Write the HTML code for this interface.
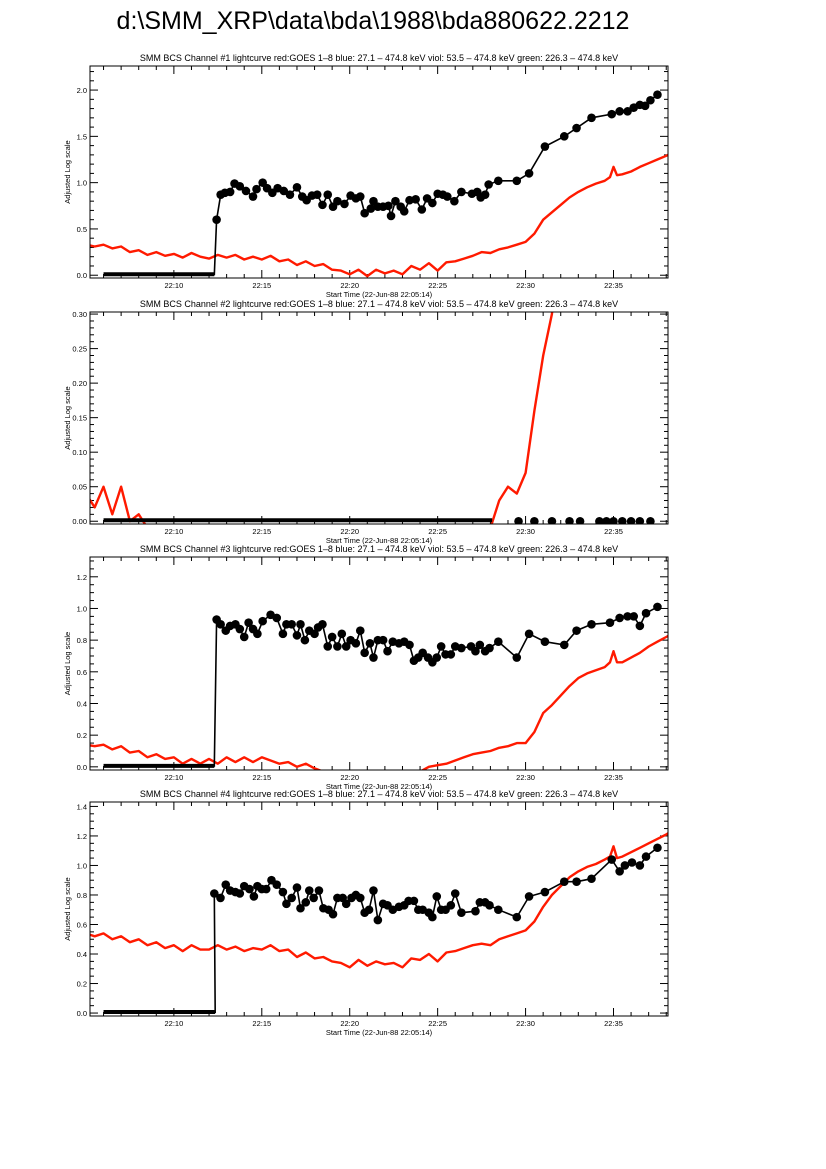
<!DOCTYPE html>
<html><head><meta charset="utf-8"><style>
html,body{margin:0;padding:0;background:#fff;}
svg{display:block;font-family:"Liberation Sans",sans-serif;}
</style></head><body>
<svg id="chart" width="826" height="1169" viewBox="0 0 826 1169" xmlns="http://www.w3.org/2000/svg">
<text x="373" y="29" font-size="25" text-anchor="middle">d:\SMM_XRP\data\bda\1988\bda880622.2212</text>
</svg>
<script>
// Shared GOES time axis (minutes after 22:00)
const goesT = [5.0,5.5,6.0,6.5,7.0,7.5,8.0,8.5,9.0,9.5,10.0,10.5,11.0,11.5,12.0,12.5,13.0,13.5,14.0,14.5,15.0,15.5,16.0,16.5,17.0,17.5,18.0,18.5,19.0,19.5,20.0,20.5,21.0,21.5,22.0,22.5,23.0,23.5,24.0,24.5,25.0,25.5,26.0,26.5,27.0,27.5,28.0,28.5,29.0,29.5,30.0,30.5,31.0,31.5,32.0,32.5,33.0,33.5,34.0,34.5,34.8,35.0,35.2,35.5,36.0,36.5,37.0,37.5,38.0,38.5];
const goes1 = [0.33,0.31,0.33,0.29,0.31,0.25,0.27,0.22,0.25,0.21,0.23,0.19,0.24,0.20,0.18,0.22,0.19,0.22,0.17,0.20,0.17,0.21,0.15,0.17,0.11,0.15,0.10,0.12,0.06,0.05,0.01,0.06,-0.01,0.06,0.02,0.05,0.01,0.10,0.06,0.13,0.05,0.14,0.15,0.18,0.21,0.25,0.24,0.28,0.30,0.33,0.36,0.45,0.60,0.68,0.76,0.84,0.90,0.95,0.99,1.02,1.06,1.17,1.08,1.09,1.12,1.17,1.21,1.25,1.29,1.34];
const goes2 = [0.04,0.02,0.05,0.01,0.05,0.00,0.01,-0.01,-0.01,-0.01,-0.01,-0.01,-0.01,-0.01,-0.01,-0.01,-0.01,-0.01,-0.01,-0.01,-0.01,-0.01,-0.01,-0.01,-0.01,-0.01,-0.01,-0.01,-0.01,-0.01,-0.01,-0.01,-0.01,-0.01,-0.01,-0.01,-0.01,-0.01,-0.01,-0.01,-0.01,-0.01,-0.01,-0.01,-0.01,-0.01,-0.01,0.03,0.05,0.04,0.07,0.16,0.24,0.30,0.40,0.5,0.5,0.5,0.5,0.5,0.5,0.5,0.5,0.5,0.5,0.5,0.5,0.5,0.5,0.5];
const goes3 = [0.14,0.13,0.14,0.11,0.13,0.09,0.10,0.06,0.08,0.05,0.06,0.02,0.05,0.02,0.05,0.02,0.06,0.03,0.06,0.03,0.06,0.04,0.02,0.03,0.00,0.02,-0.01,-0.03,-0.04,-0.04,-0.04,-0.04,-0.04,-0.04,-0.04,-0.04,-0.04,-0.04,-0.03,0.00,0.01,0.02,0.04,0.06,0.08,0.09,0.10,0.12,0.13,0.15,0.15,0.22,0.34,0.39,0.45,0.51,0.56,0.59,0.61,0.63,0.66,0.73,0.66,0.66,0.69,0.72,0.76,0.79,0.82,0.85];
const goes4 = [0.54,0.52,0.54,0.50,0.52,0.48,0.50,0.46,0.48,0.44,0.46,0.42,0.46,0.43,0.43,0.46,0.43,0.45,0.42,0.44,0.43,0.46,0.42,0.43,0.38,0.41,0.37,0.38,0.35,0.34,0.31,0.36,0.32,0.35,0.33,0.34,0.31,0.37,0.36,0.40,0.35,0.41,0.42,0.44,0.46,0.47,0.46,0.50,0.52,0.54,0.56,0.62,0.72,0.80,0.86,0.92,0.96,0.99,1.01,1.04,1.06,1.13,1.05,1.06,1.09,1.12,1.15,1.18,1.21,1.25];

// BCS channel points
const bcsT1 = [12.43,12.66,12.9,13.2,13.45,13.75,14.1,14.5,14.7,15.05,15.3,15.6,15.9,16.25,16.6,17.0,17.3,17.55,17.85,18.15,18.45,18.75,19.05,19.3,19.7,20.05,20.35,20.6,20.85,21.2,21.35,21.6,21.9,22.2,22.35,22.6,22.9,23.1,23.4,23.75,24.1,24.4,24.7,25.0,25.3,25.55,25.95,26.35,26.95,27.25,27.45,27.7,27.9,28.45,29.5,30.2,31.1,32.2,32.9,33.75,34.9,35.35,35.8,36.15,36.5,36.8,37.1,37.5];
const bcsV1 = [0.6,0.87,0.89,0.90,0.99,0.96,0.91,0.85,0.93,1.0,0.94,0.89,0.94,0.91,0.87,0.95,0.85,0.81,0.86,0.87,0.76,0.87,0.74,0.80,0.77,0.86,0.83,0.85,0.67,0.72,0.80,0.74,0.74,0.75,0.64,0.80,0.74,0.69,0.81,0.82,0.71,0.83,0.78,0.88,0.87,0.85,0.80,0.90,0.88,0.90,0.84,0.87,0.98,1.02,1.02,1.10,1.39,1.5,1.59,1.70,1.74,1.77,1.77,1.81,1.84,1.83,1.89,1.95];
const bcsT2 = [29.6,30.5,31.5,32.5,33.1,34.2,34.6,35.0,35.5,36.0,36.5,37.1];
const bcsV2 = [0,0,0,0,0,0,0,0,0,0,0,0];
const bcsT3 = [12.43,12.66,12.95,13.2,13.5,13.75,14.0,14.25,14.5,14.75,15.05,15.5,15.85,16.2,16.4,16.7,17.0,17.2,17.45,17.7,18.0,18.2,18.45,18.75,19.0,19.3,19.55,19.8,20.05,20.35,20.6,20.85,21.15,21.35,21.6,21.9,22.15,22.45,22.8,23.1,23.4,23.65,23.9,24.15,24.45,24.7,24.95,25.2,25.45,25.75,26.0,26.35,26.9,27.15,27.4,27.7,27.95,28.45,29.5,30.2,31.1,32.2,32.9,33.75,34.8,35.35,35.8,36.15,36.5,36.85,37.5];
const bcsV3 = [0.93,0.90,0.86,0.89,0.90,0.87,0.82,0.91,0.87,0.84,0.92,0.96,0.94,0.84,0.90,0.90,0.83,0.90,0.80,0.86,0.84,0.88,0.90,0.76,0.82,0.76,0.84,0.76,0.80,0.78,0.86,0.72,0.78,0.69,0.80,0.80,0.73,0.79,0.78,0.79,0.77,0.67,0.69,0.72,0.69,0.66,0.69,0.76,0.71,0.71,0.76,0.75,0.76,0.73,0.77,0.73,0.75,0.79,0.69,0.84,0.79,0.77,0.86,0.90,0.91,0.94,0.95,0.95,0.89,0.97,1.01];
const bcsT4 = [12.3,12.65,12.95,13.2,13.5,13.75,14.0,14.3,14.55,14.75,15.0,15.25,15.55,15.85,16.2,16.4,16.7,17.0,17.2,17.5,17.7,17.95,18.25,18.5,18.8,19.05,19.3,19.6,19.8,20.1,20.35,20.6,20.85,21.1,21.35,21.6,21.9,22.15,22.45,22.8,23.1,23.35,23.65,23.9,24.15,24.5,24.7,24.95,25.2,25.45,25.75,26.0,26.35,27.15,27.4,27.7,27.95,28.45,29.5,30.2,31.1,32.2,32.9,33.75,34.9,35.35,35.65,36.05,36.5,36.85,37.5];
const bcsV4 = [0.81,0.78,0.87,0.83,0.82,0.81,0.86,0.84,0.79,0.86,0.84,0.84,0.90,0.87,0.82,0.74,0.78,0.85,0.71,0.75,0.83,0.78,0.83,0.71,0.70,0.67,0.78,0.78,0.74,0.78,0.80,0.78,0.68,0.70,0.83,0.63,0.74,0.73,0.70,0.72,0.73,0.76,0.76,0.70,0.70,0.68,0.65,0.79,0.70,0.70,0.73,0.81,0.68,0.69,0.75,0.75,0.73,0.70,0.65,0.79,0.82,0.89,0.89,0.91,1.04,0.96,1.0,1.02,1.0,1.06,1.12];

// zero-level segments [start, end] in minutes
const zeroSeg1 = [6.0, 12.3];
const zeroSeg2 = [6.0, 28.1];
const zeroSeg3 = [6.0, 12.3];
const zeroSeg4 = [6.0, 12.35];

// Axis ticks
const xMajorTicks = [10,15,20,25,30,35];
const xTickLabels = ["22:10","22:15","22:20","22:25","22:30","22:35"];
const yTicks1 = [0,0.5,1.0,1.5,2.0];
const yLabels1 = ["0.0","0.5","1.0","1.5","2.0"];
const yTicks2 = [0,0.05,0.10,0.15,0.20,0.25,0.30];
const yLabels2 = ["0.00","0.05","0.10","0.15","0.20","0.25","0.30"];
const yTicks3 = [0,0.2,0.4,0.6,0.8,1.0,1.2];
const yLabels3 = ["0.0","0.2","0.4","0.6","0.8","1.0","1.2"];
const yTicks4 = [0,0.2,0.4,0.6,0.8,1.0,1.2,1.4];
const yLabels4 = ["0.0","0.2","0.4","0.6","0.8","1.0","1.2","1.4"];

const NS = "http://www.w3.org/2000/svg";
const svg = document.getElementById('chart');
const X0 = 90, X1 = 668, TMIN = 5.23, TMAX = 38.1;
function mk(tag, attrs, parent){ const e=document.createElementNS(NS,tag); for(const k in attrs) e.setAttribute(k,attrs[k]); (parent||svg).appendChild(e); return e; }
function xs(t){ return X0 + (t-TMIN)/(TMAX-TMIN)*(X1-X0); }

const panels = [
 {n:1, top:66, bot:278, ymin:-0.03, ymax:2.26, minor:0.1, ticks:yTicks1, labels:yLabels1, goes:goes1, bt:bcsT1, bv:bcsV1, zero:zeroSeg1, joinZero:true},
 {n:2, top:312, bot:524, ymin:-0.004, ymax:0.303, minor:0.01, ticks:yTicks2, labels:yLabels2, goes:goes2, bt:bcsT2, bv:bcsV2, zero:zeroSeg2, joinZero:false},
 {n:3, top:557, bot:770, ymin:-0.02, ymax:1.325, minor:0.05, ticks:yTicks3, labels:yLabels3, goes:goes3, bt:bcsT3, bv:bcsV3, zero:zeroSeg3, joinZero:true},
 {n:4, top:802, bot:1016, ymin:-0.02, ymax:1.43, minor:0.05, ticks:yTicks4, labels:yLabels4, goes:goes4, bt:bcsT4, bv:bcsV4, zero:zeroSeg4, joinZero:true}
];

panels.forEach(p=>{
  const ys = v => p.bot - (v-p.ymin)/(p.ymax-p.ymin)*(p.bot-p.top);
  const g = mk('g',{});
  
  
  const title = mk('text',{x:379,y:p.top-5,'font-size':9,'text-anchor':'middle'},g);
  
  
  title.textContent = 'SMM BCS Channel #'+p.n+' lightcurve  red:GOES 1\u20138  blue: 27.1 \u2013 474.8 keV  viol: 53.5 \u2013 474.8 keV  green: 226.3 \u2013 474.8 keV';
  const clipId='clip'+p.n;
  const cp = mk('clipPath',{id:clipId},g);
  mk('rect',{x:X0,y:p.top,width:X1-X0,height:p.bot-p.top},cp);
  for(let m=6;m<=38;m++){
    const x=xs(m), L=(m%5===0)?8:4;
    const t1=mk('line',{x1:x,x2:x,y1:p.bot,y2:p.bot-L,stroke:'#000','stroke-width':1},g);
    
    
    const t2=mk('line',{x1:x,x2:x,y1:p.top,y2:p.top+L,stroke:'#000','stroke-width':1},g);
    
    
  }
  xMajorTicks.forEach((m,i)=>{
    const lb=mk('text',{x:xs(m),y:p.bot+10,'font-size':7.5,'text-anchor':'middle'},g);
    
    
    lb.textContent=xTickLabels[i];
  });
  const xt=mk('text',{x:379,y:p.bot+19,'font-size':7.5,'text-anchor':'middle'},g);
  
  
  xt.textContent='Start Time (22-Jun-88 22:05:14)';
  const nMinor=Math.round((p.ymax-0)/p.minor);
  for(let k=0;k<=nMinor;k++){
    const v=k*p.minor; if(v>p.ymax) break;
    const y=ys(v);
    const isMaj = p.ticks.some(t=>Math.abs(t-v)<1e-6);
    const L=isMaj?8:4;
    const a=mk('line',{x1:X0,x2:X0+L,y1:y,y2:y,stroke:'#000','stroke-width':1},g);
    
    
    const b=mk('line',{x1:X1,x2:X1-L,y1:y,y2:y,stroke:'#000','stroke-width':1},g);
    
    
  }
  p.ticks.forEach((v,i)=>{
    const lb=mk('text',{x:X0-3,y:ys(v)+3,'font-size':7.5,'text-anchor':'end'},g);
    
    
    lb.textContent=p.labels[i];
  });
  const yc=(p.top+p.bot)/2;
  const yt=mk('text',{x:70,y:yc,'font-size':7.5,'text-anchor':'middle',transform:'rotate(-90 70 '+yc+')'},g);
  
  
  yt.textContent='Adjusted Log scale';
  const rp=goesT.map((t,i)=>xs(t).toFixed(1)+','+ys(p.goes[i]).toFixed(1)).join(' ');
  const red=mk('polyline',{points:rp,fill:'none',stroke:'#ff1a00','stroke-width':2.4,'stroke-linejoin':'round','clip-path':'url(#'+clipId+')'},g);
  
  
  const zl=mk('line',{x1:xs(p.zero[0]),x2:xs(p.zero[1]),y1:ys(0)-1,y2:ys(0)-1,stroke:'#000','stroke-width':4,'clip-path':'url(#'+clipId+')'},g);
  
  
  let pts=[];
  if(p.joinZero) pts.push(xs(p.zero[1]).toFixed(1)+','+ys(0).toFixed(1));
  p.bt.forEach((t,i)=>pts.push(xs(t).toFixed(1)+','+ys(p.bv[i]).toFixed(1)));
  if(p.joinZero){
    const bl=mk('polyline',{points:pts.join(' '),fill:'none',stroke:'#000','stroke-width':1.6,'clip-path':'url(#'+clipId+')'},g);
    
    
  }
  p.bt.forEach((t,i)=>{
    const c=mk('circle',{cx:xs(t),cy:ys(p.bv[i]),r:4.3,fill:'#000','clip-path':'url(#'+clipId+')'},g);
    
    
  });
  const fr=mk('rect',{x:X0,y:p.top,width:X1-X0,height:p.bot-p.top,fill:'none',stroke:'#000','stroke-width':1},g);
  
  
});
</script>
</body></html>
